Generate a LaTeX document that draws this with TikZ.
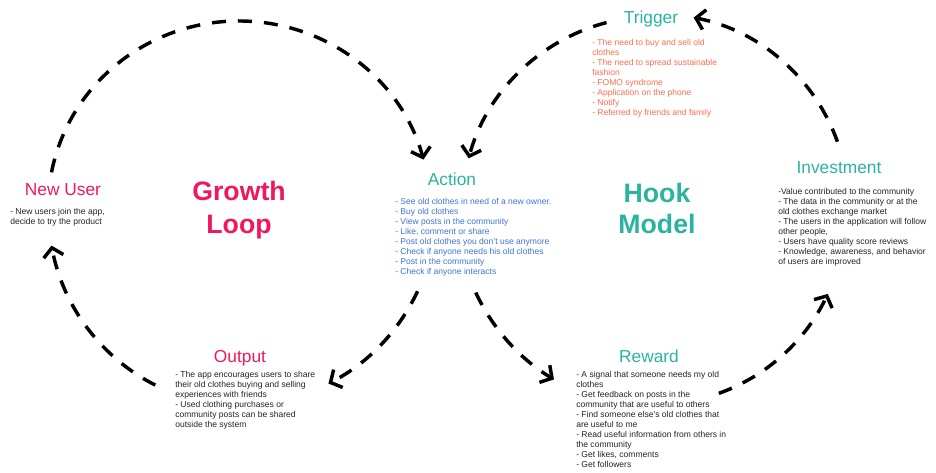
\documentclass[tikz,border=0pt]{standalone}
\usepackage{fontspec}
\setmainfont{Liberation Sans}
\usetikzlibrary{arrows.meta,calc}
\definecolor{pinkc}{HTML}{F0175E}
\definecolor{tealc}{HTML}{2BB3A0}
\definecolor{orangec}{HTML}{FF6B4F}
\definecolor{bluec}{HTML}{3E72D2}
\definecolor{darkc}{HTML}{222222}
\begin{document}
\begin{tikzpicture}[x=0.75pt,y=-0.75pt,
  title/.style={font=\fontsize{13}{15}\selectfont, inner sep=0pt, anchor=base},
  big/.style={font=\fontsize{20}{24}\bfseries\selectfont, inner sep=0pt, anchor=base},
  body/.style={font=\fontsize{6.4}{7.5}\selectfont, align=left, anchor=north west, inner sep=0pt},
  loopline/.style={line width=2.6pt, dash pattern=on 10.5pt off 9pt,
    -{Straight Barb[length=6.5pt,width=15pt,line width=2.6pt]}},
  ]
\useasboundingbox (0,0) rectangle (936,472);

% centres of the two loops
\coordinate (G) at (239,208);
\coordinate (H) at (657,208);

% ---------- titles ----------
\node[title, text=tealc] (trigT) at (651,23) {Trigger};
\node[title, text=tealc] (actT) at (452,185) {Action};
\node[title, text=tealc] (invT) at (839,173) {Investment};
\node[title, text=pinkc] (newT) at (63,195) {New User};
\node[title, text=pinkc] (outT) at (240,362) {Output};
\node[title, text=tealc] (rewT) at (649,362) {Reward};

\node[big, text=pinkc] (gr1) at (239,200) {Growth};
\node[big, text=pinkc] (gr2) at (239,233) {Loop};
\node[big, text=tealc] (hk1) at (657,202) {Hook};
\node[big, text=tealc] (hk2) at (657,233) {Model};

% ---------- bodies ----------
\node[body, text=orangec] (trigB) at (592,39) {- The need to buy and sell old\\clothes\\- The need to spread sustainable\\fashion\\- FOMO syndrome\\- Application on the phone\\- Notify\\- Referred by friends and family};
\node[body, text=bluec] (actB) at (395,198) {- See old clothes in need of a new owner.\\- Buy old clothes\\- View posts in the community\\- Like, comment or share\\- Post old clothes you don't use anymore\\- Check if anyone needs his old clothes\\- Post in the community\\- Check if anyone interacts};
\node[body, text=darkc] (invB) at (778,188) {-Value contributed to the community\\- The data in the community or at the\\old clothes exchange market\\- The users in the application will follow\\other people,\\- Users have quality score reviews\\- Knowledge, awareness, and behavior\\of users are improved};
\node[body, text=darkc] (newB) at (10,208) {- New users join the app,\\decide to try the product};
\node[body, text=darkc] (outB) at (175,371) {- The app encourages users to share\\their old clothes buying and selling\\experiences with friends\\- Used clothing purchases or\\community posts can be shared\\outside the system};
\node[body, text=darkc] (rewB) at (576,371) {- A signal that someone needs my old\\clothes\\- Get feedback on posts in the\\community that are useful to others\\- Find someone else's old clothes that\\are useful to me\\- Read useful information from others in\\the community\\- Get likes, comments\\- Get followers};

% ---------- growth loop arcs ----------
\coordinate (g1) at ($(G)+(-169:191 and 187)$);
\draw[loopline] (g1) arc[start angle=-169, end angle=-15, x radius=191, y radius=187];
\coordinate (g2) at ($(G)+(25:197 and 197)$);
\draw[loopline] (g2) arc[start angle=25, end angle=63, x radius=197, y radius=197];
\coordinate (g3) at ($(G)+(116:191 and 197)$);
\draw[loopline] (g3) arc[start angle=116, end angle=169, x radius=191, y radius=197];

% ---------- hook model arcs ----------
\coordinate (h1) at ($(H)+(-105:195 and 192)$);
\draw[loopline] (h1) arc[start angle=-105, end angle=-165, x radius=195, y radius=192];
\coordinate (h2) at ($(H)+(155:200 and 200)$);
\draw[loopline] (h2) arc[start angle=155, end angle=121, x radius=200, y radius=200];
\coordinate (h3) at ($(H)+(71:190 and 196)$);
\draw[loopline] (h3) arc[start angle=71, end angle=26, x radius=190, y radius=196];
\coordinate (h4) at ($(H)+(-20:192 and 194)$);
\draw[loopline] (h4) arc[start angle=-20, end angle=-79, x radius=192, y radius=194];
\end{tikzpicture}
\end{document}
